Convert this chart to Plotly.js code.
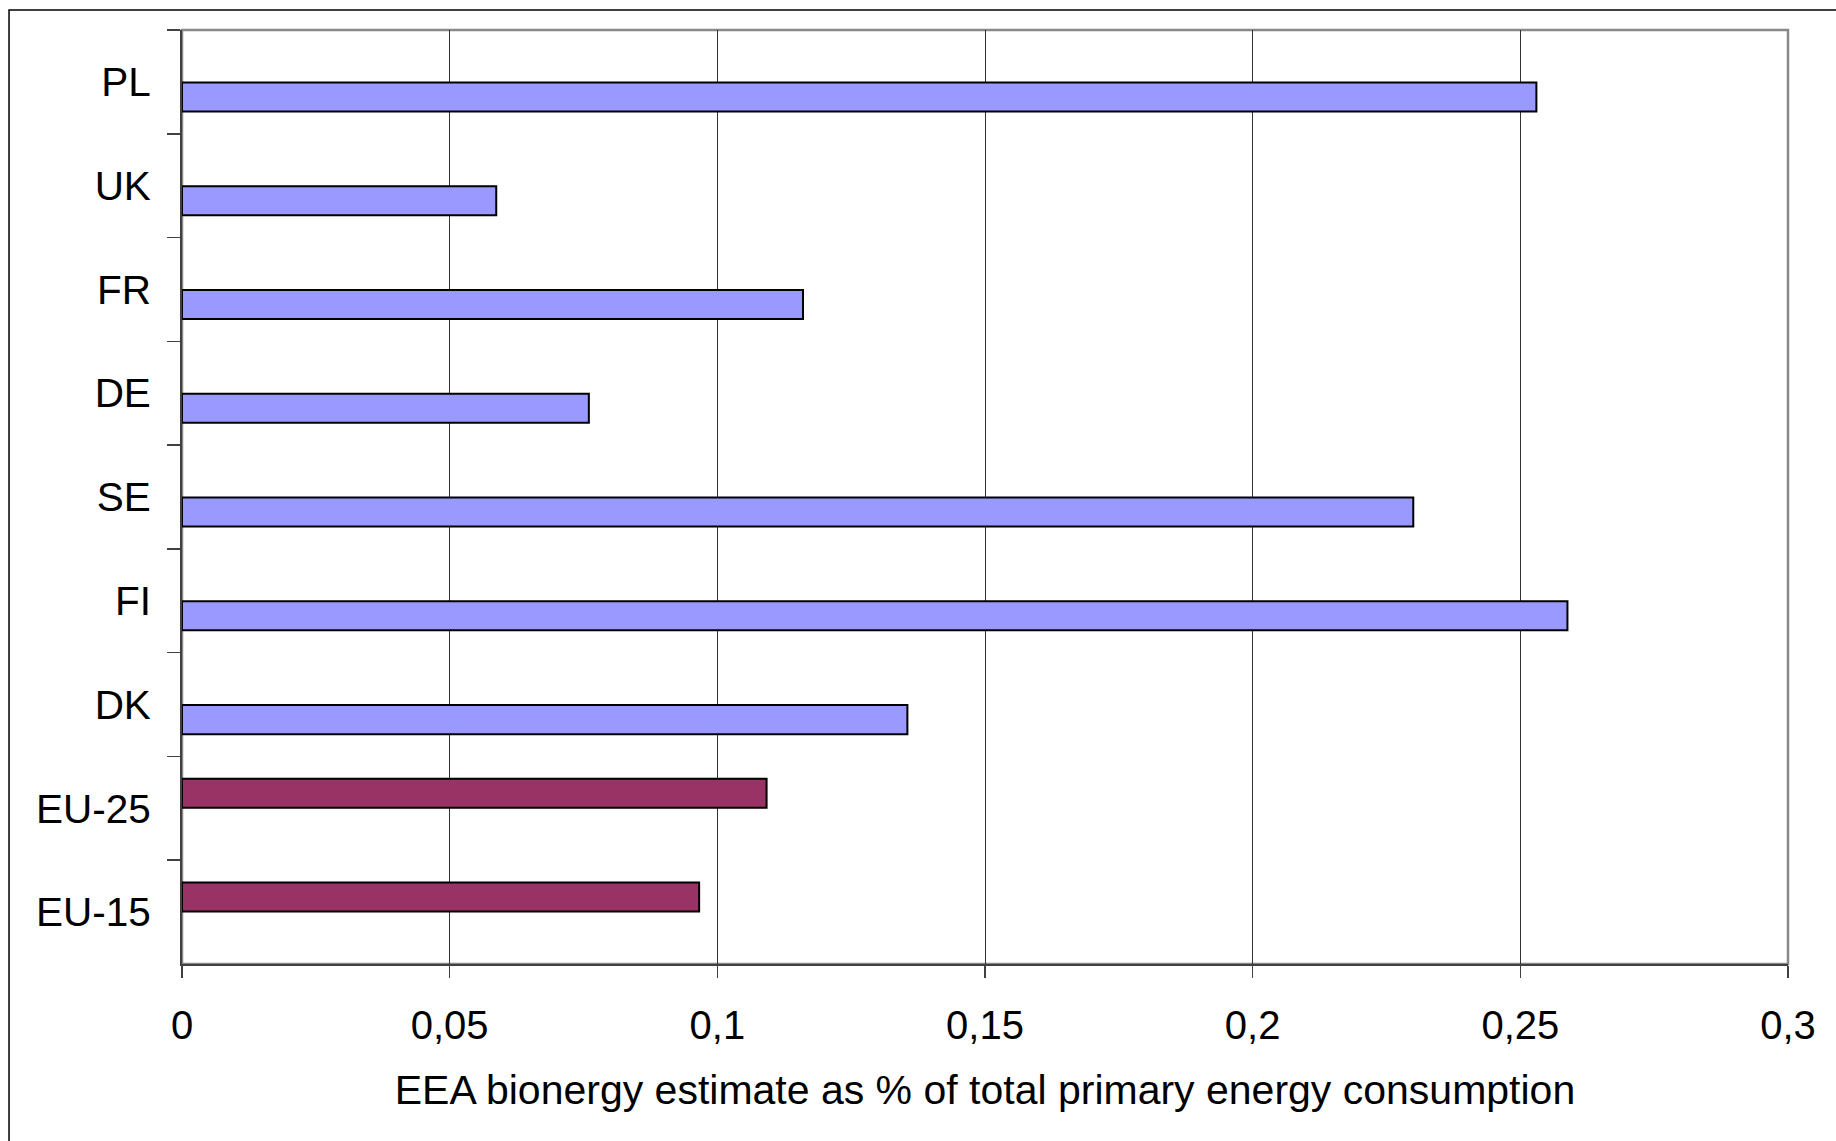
<!DOCTYPE html>
<html>
<head>
<meta charset="utf-8">
<script src="https://cdn.plot.ly/plotly-3.0.1.min.js"></script>
<style>
  html, body { margin: 0; padding: 0; background: #ffffff; }
  #chart { width: 1836px; height: 1141px; }
</style>
</head>
<body>
<div id="chart"></div>
<script>
// Category order, top to bottom
const categories = ['PL', 'UK', 'FR', 'DE', 'SE', 'FI', 'DK', 'EU-25', 'EU-15'];

// Individual member states
const countryNames = ['PL', 'UK', 'FR', 'DE', 'SE', 'FI', 'DK'];
const countryValues = [0.253, 0.0587, 0.116, 0.076, 0.230, 0.2588, 0.1355];

// EU aggregates
const euNames = ['EU-25', 'EU-15'];
const euValues = [0.1092, 0.0966];

// Axis ticks
const xTicks = [0, 0.05, 0.1, 0.15, 0.2, 0.25, 0.3];

const fontFamily = '"Liberation Sans", Arial, sans-serif';
const barWidth = 0.28;

const traces = [
  {
    type: 'bar',
    orientation: 'h',
    y: countryNames,
    x: countryValues,
    width: barWidth,
    offset: 0.005,
    marker: { color: '#9999FF', line: { color: '#000000', width: 2 } },
    hoverinfo: 'skip'
  },
  {
    type: 'bar',
    orientation: 'h',
    y: euNames,
    x: euValues,
    width: barWidth,
    offset: -0.285,
    marker: { color: '#993366', line: { color: '#000000', width: 2 } },
    hoverinfo: 'skip'
  }
];

const layout = {
  width: 1836,
  height: 1141,
  margin: { l: 182, r: 48, t: 30, b: 177 },
  paper_bgcolor: '#ffffff',
  plot_bgcolor: '#ffffff',
  showlegend: false,
  barmode: 'overlay',
  separators: ', ',
  font: { family: fontFamily, size: 40, color: '#000000' },
  xaxis: {
    range: [0, 0.3],
    tickvals: xTicks,
    ticks: 'outside',
    ticklen: 12,
    tickwidth: 1.5,
    tickcolor: '#404040',
    ticklabelstandoff: 13,
    showgrid: true,
    gridcolor: '#333333',
    gridwidth: 1,
    zeroline: false,
    showline: true,
    linecolor: '#404040',
    linewidth: 2,
    tickfont: { family: fontFamily, size: 40, color: '#000000' },
    title: {
      text: 'EEA bionergy estimate as % of total primary energy consumption',
      font: { family: fontFamily, size: 41, color: '#000000' },
      standoff: 29
    }
  },
  yaxis: {
    type: 'category',
    categoryorder: 'array',
    categoryarray: categories,
    autorange: 'reversed',
    tickson: 'boundaries',
    ticks: 'outside',
    ticklen: 13,
    tickwidth: 1.5,
    tickcolor: '#404040',
    ticklabelstandoff: 21,
    showgrid: false,
    zeroline: false,
    showline: true,
    linecolor: '#404040',
    linewidth: 2,
    tickfont: { family: fontFamily, size: 40.5, color: '#000000' }
  },
  shapes: [
    // plot area frame (top and right edges)
    {
      type: 'rect', xref: 'paper', yref: 'paper',
      x0: 0, x1: 1, y0: 0, y1: 1,
      line: { color: '#888888', width: 2.5 },
      layer: 'below'
    },
    // outer chart frame
    {
      type: 'rect', xref: 'paper', yref: 'paper',
      x0: -0.1077, x1: 1.04, y0: -0.21, y1: 1.0214,
      line: { color: '#000000', width: 1.5 },
      layer: 'below'
    }
  ]
};

Plotly.newPlot('chart', traces, layout, { staticPlot: true, displayModeBar: false });
</script>
</body>
</html>
